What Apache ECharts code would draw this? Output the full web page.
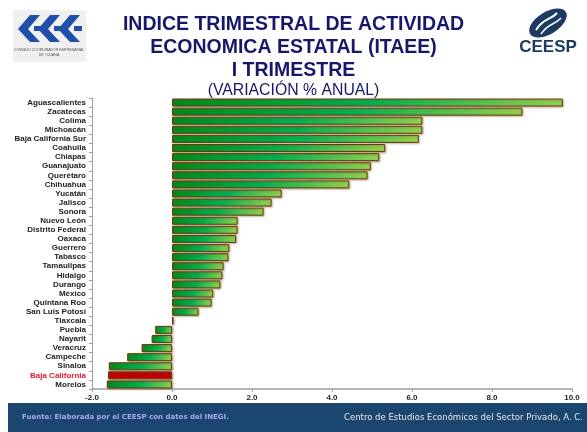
<!DOCTYPE html>
<html>
<head>
<meta charset="utf-8">
<script src="https://cdn.jsdelivr.net/npm/echarts@6/dist/echarts.min.js"></script>
<style>
html, body { margin: 0; padding: 0; background: #fff; }
#chart { width: 587px; height: 432px; }
</style>
</head>
<body>
<div id="chart"></div>
<script>
// Estados (de arriba hacia abajo)
var estados = ['Aguascalientes', 'Zacatecas', 'Colima', 'Michoacán', 'Baja California Sur',
	'Coahuila', 'Chiapas', 'Guanajuato', 'Querétaro', 'Chihuahua', 'Yucatán', 'Jalisco',
	'Sonora', 'Nuevo León', 'Distrito Federal', 'Oaxaca', 'Guerrero', 'Tabasco', 'Tamaulipas',
	'Hidalgo', 'Durango', 'México', 'Quintana Roo', 'San Luis Potosí', 'Tlaxcala', 'Puebla',
	'Nayarit', 'Veracruz', 'Campeche', 'Sinaloa', 'Baja California', 'Morelos'];
// Variación % anual
var variacion = [9.77, 8.76, 6.26, 6.26, 6.17,
	5.33, 5.18, 4.97, 4.89, 4.43, 2.74, 2.49,
	2.29, 1.64, 1.64, 1.60, 1.43, 1.41, 1.29,
	1.26, 1.21, 1.03, 0.99, 0.66, 0.04, -0.42,
	-0.51, -0.76, -1.12, -1.58, -1.60, -1.63];
var ticksX = [-2, 0, 2, 4, 6, 8, 10];

var chart = echarts.init(document.getElementById('chart'));

var verde = new echarts.graphic.LinearGradient(0, 0, 1, 0, [
	{ offset: 0, color: '#008a1a' },
	{ offset: 0.5, color: '#00b050' },
	{ offset: 1, color: '#92d050' }
]);

var datos = variacion.map(function(v, i) {
	var item = { value: v };
	if (estados[i] === 'Baja California') {
		item.itemStyle = { color: '#c00000' };
	} else if (estados[i] === 'Tlaxcala') {
		item.itemStyle = { color: '#7a4a00' };
	}
	return item;
});

chart.setOption({
	animation: false,
	title: {
		text: 'INDICE TRIMESTRAL DE ACTIVIDAD\nECONOMICA ESTATAL (ITAEE)\nI TRIMESTRE',
		subtext: '(VARIACIÓN % ANUAL)',
		left: 'center',
		top: 8,
		itemGap: 1,
		textStyle: {
			fontFamily: 'Liberation Sans',
			fontSize: 19.5,
			fontWeight: 'bold',
			color: '#17176b',
			lineHeight: 23
		},
		subtextStyle: {
			fontFamily: 'Liberation Sans',
			fontSize: 15.8,
			color: '#17176b'
		}
	},
	grid: { left: 92, right: 15, top: 98, bottom: 43 },
	xAxis: {
		type: 'value',
		min: -2,
		max: 10,
		interval: 2,
		splitLine: { show: false },
		axisLine: { show: true, lineStyle: { color: '#a0a0a0', width: 1.5 } },
		axisTick: { show: true, length: 3, lineStyle: { color: '#a0a0a0' } },
		axisLabel: {
			fontFamily: 'Liberation Sans',
			fontSize: 8,
			fontWeight: 'bold',
			color: '#222',
			margin: 5,
			customValues: ticksX,
			formatter: function(v) { return v.toFixed(1); }
		}
	},
	yAxis: {
		type: 'category',
		data: estados,
		inverse: true,
		axisLine: { show: true, onZero: false, lineStyle: { color: '#a0a0a0' } },
		axisTick: { show: true, length: 3, interval: 0, lineStyle: { color: '#a0a0a0' } },
		axisLabel: {
			interval: 0,
			fontFamily: 'Liberation Sans',
			fontSize: 8,
			fontWeight: 'bold',
			color: '#222',
			margin: 6,
			formatter: function(v) {
				return v === 'Baja California' ? '{r|' + v + '}' : v;
			},
			rich: {
				r: {
					fontFamily: 'Liberation Sans',
					fontSize: 8,
					fontWeight: 'bold',
					color: '#e0202a'
				}
			}
		}
	},
	series: [{
		type: 'bar',
		data: datos,
		barCategoryGap: '12%',
		itemStyle: {
			color: verde,
			borderColor: '#6b3a08',
			borderWidth: 1,
			shadowBlur: 2,
			shadowOffsetX: 1,
			shadowOffsetY: 1,
			shadowColor: 'rgba(110,80,40,0.45)'
		}
	}],
	graphic: [
		// logo CCE
		{ type: 'rect', shape: { x: 13, y: 10, width: 73, height: 52 }, style: { fill: '#f0f0f0' } },
		{ type: 'polygon', shape: { points: [[30, 15], [40, 15], [28, 29], [40, 42], [30, 42], [18, 29]] }, style: { fill: '#1f4fa8' } },
		{ type: 'polygon', shape: { points: [[50, 15], [60, 15], [48, 29], [60, 42], [50, 42], [38, 29]] }, style: { fill: '#1f4fa8' } },
		{ type: 'polygon', shape: { points: [[70, 15], [80, 15], [68, 29], [80, 42], [70, 42], [58, 29]] }, style: { fill: '#1f4fa8' } },
		{ type: 'rect', shape: { x: 34, y: 26, width: 10, height: 5 }, style: { fill: '#1f4fa8' } },
		{ type: 'rect', shape: { x: 54, y: 26, width: 10, height: 5 }, style: { fill: '#1f4fa8' } },
		{ type: 'rect', shape: { x: 74, y: 26, width: 8, height: 5 }, style: { fill: '#1f4fa8' } },
		{ type: 'text', style: { x: 49, y: 48, text: 'CONSEJO COORDINADOR EMPRESARIAL', fontSize: 3.5, fill: '#555', align: 'center', fontFamily: 'Liberation Sans' } },
		{ type: 'text', style: { x: 49, y: 53, text: 'DE TIJUANA', fontSize: 3.5, fill: '#555', align: 'center', fontFamily: 'Liberation Sans' } },
		// logo CEESP
		{ type: 'ellipse', shape: { cx: 0, cy: 0, rx: 21, ry: 11 }, x: 548, y: 23, rotation: 0.55, style: { fill: '#1d3a62' } },
		{ type: 'bezierCurve', shape: { x1: 536, y1: 30, x2: 557, y2: 13, cpx1: 543, cpy1: 18, cpx2: 551, cpy2: 20 }, style: { stroke: '#fff', lineWidth: 2, fill: null } },
		{ type: 'bezierCurve', shape: { x1: 541, y1: 34, x2: 561, y2: 18, cpx1: 548, cpy1: 23, cpx2: 555, cpy2: 25 }, style: { stroke: '#fff', lineWidth: 1.5, fill: null } },
		{ type: 'text', style: { x: 548, y: 39, text: 'CEESP', fontSize: 17, fontWeight: 'bold', fill: '#1d3a62', align: 'center', fontFamily: 'Liberation Sans' } },
		// pie de página
		{ type: 'rect', shape: { x: 8, y: 403, width: 579, height: 29 }, style: { fill: '#1b4670' } },
		{ type: 'text', style: { x: 22, y: 414, text: 'Fuente: Elaborada por el CEESP con datos del INEGI.', fontSize: 7, fontWeight: 'bold', fill: '#a9a9ee', fontFamily: 'DejaVu Sans' } },
		{ type: 'text', style: { x: 583, y: 413, text: 'Centro de Estudios Económicos del Sector Privado, A. C.', fontSize: 8.5, fill: '#e8e8e8', align: 'right', fontFamily: 'DejaVu Sans' } }
	]
});
</script>
</body>
</html>
